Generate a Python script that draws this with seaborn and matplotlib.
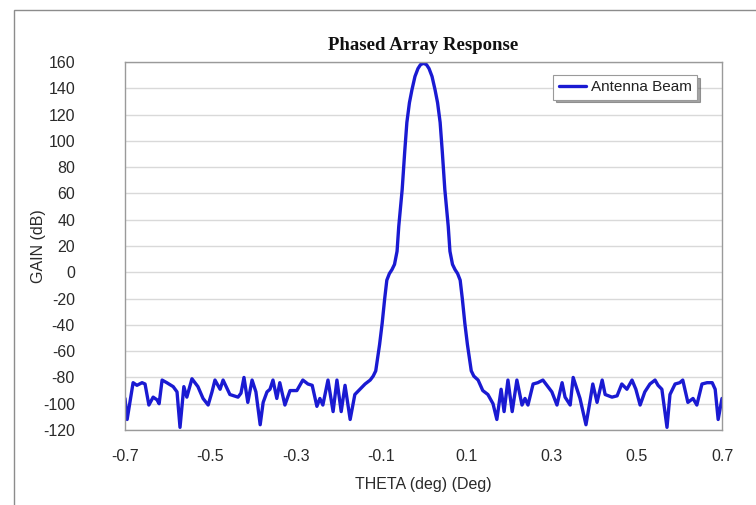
import matplotlib
matplotlib.use("Agg")
import matplotlib.pyplot as plt
from matplotlib.patches import Rectangle
import seaborn as sns
import pandas as pd

theta = [
    -0.700, -0.695, -0.681, -0.672, -0.660, -0.653, -0.644, -0.634, -0.625, -0.620,
    -0.613, -0.602, -0.587, -0.578, -0.571, -0.562, -0.555, -0.543, -0.529, -0.517,
    -0.505, -0.496, -0.489, -0.477, -0.470, -0.454, -0.435, -0.428, -0.421, -0.412,
    -0.402, -0.393, -0.383, -0.376, -0.367, -0.360, -0.353, -0.344, -0.337, -0.325,
    -0.313, -0.297, -0.283, -0.271, -0.261, -0.250, -0.243, -0.236, -0.224, -0.212,
    -0.203, -0.193, -0.184, -0.172, -0.161, -0.149, -0.137, -0.125, -0.118, -0.112,
    -0.108, -0.103, -0.097, -0.091, -0.086, -0.080, -0.074, -0.068, -0.062, -0.058,
    -0.050, -0.044, -0.039, -0.033, -0.027, -0.020, -0.013, -0.007, 0.000,
    0.007, 0.013, 0.020, 0.027, 0.033, 0.039, 0.044, 0.050, 0.058, 0.062,
    0.068, 0.074, 0.080, 0.086,
    0.091, 0.097, 0.103, 0.108, 0.112, 0.118, 0.128, 0.139, 0.151, 0.163,
    0.172, 0.182, 0.189, 0.198, 0.208, 0.219, 0.231, 0.238, 0.245, 0.257,
    0.268, 0.280, 0.301, 0.313, 0.325, 0.332, 0.344, 0.351, 0.360, 0.367,
    0.381, 0.390, 0.397, 0.407, 0.419, 0.426, 0.442, 0.454, 0.465, 0.477,
    0.489, 0.498, 0.508, 0.519, 0.531, 0.543, 0.550, 0.559, 0.571, 0.578,
    0.590, 0.601, 0.608, 0.620, 0.632, 0.641, 0.653, 0.665, 0.677, 0.684,
    0.691, 0.700,
]

gain = [
    -96, -112, -84, -86, -84, -85, -101, -95, -97, -100,
    -82, -84, -87, -91, -118, -87, -95, -81, -87, -96,
    -101, -91, -82, -89, -82, -93, -95, -92, -80, -99,
    -82, -91, -116, -99, -91, -89, -82, -96, -84, -101,
    -90, -90, -82, -85, -86, -102, -96, -101, -82, -106,
    -82, -106, -86, -112, -93, -89, -85, -82, -79, -75,
    -66, -55, -39, -20, -6, -1, 2, 6, 16, 35,
    63, 92, 114, 129, 139, 149, 155, 158, 159,
    158, 155, 149, 139, 129, 114, 92, 63, 35, 16,
    6, 2, -1, -6,
    -20, -39, -55, -66, -75, -79, -82, -90, -93, -100,
    -112, -89, -106, -82, -106, -82, -101, -96, -101, -85,
    -84, -82, -91, -101, -84, -95, -101, -80, -89, -96,
    -116, -99, -85, -99, -82, -93, -95, -94, -85, -89,
    -82, -89, -101, -91, -85, -82, -86, -89, -118, -93,
    -85, -84, -82, -99, -96, -101, -85, -84, -84, -89,
    -112, -96,
]

series_name = "Antenna Beam"
x_ticks = [-0.7, -0.5, -0.3, -0.1, 0.1, 0.3, 0.5, 0.7]
x_tick_labels = ["-0.7", "-0.5", "-0.3", "-0.1", "0.1", "0.3", "0.5", "0.7"]
y_ticks = list(range(-120, 161, 20))
y_tick_labels = [str(v) for v in y_ticks]

df = pd.DataFrame({"theta": theta, "gain": gain, "series": series_name})

sns.set_theme(style="white")
plt.rcParams["font.family"] = ["Liberation Sans", "DejaVu Sans"]
plt.rcParams["axes.unicode_minus"] = False

fig = plt.figure(figsize=(7.56, 5.05), dpi=100)
fig.patch.set_facecolor("white")
ax = fig.add_axes([125 / 756, 1 - 430 / 505, (722 - 125) / 756, (430 - 62) / 505])

# outer chart border
fig.add_artist(Rectangle((14 / 756, -0.05), 1.2, 0.05 + (505 - 10) / 505,
                         transform=fig.transFigure, fill=False,
                         edgecolor="#8c8c8c", linewidth=1.0))

sns.lineplot(data=df, x="theta", y="gain", hue="series", sort=False,
             estimator=None, palette=["#1a1ad2"], linewidth=2.4, ax=ax)

ax.set_xlim(-0.7, 0.7)
ax.set_ylim(-120, 160)
ax.set_xticks(x_ticks)
ax.set_xticklabels(x_tick_labels)
ax.set_yticks(y_ticks)
ax.set_yticklabels(y_tick_labels)
ax.yaxis.grid(True, color="#d9d9d9", linewidth=1.0)
ax.xaxis.grid(False)
ax.set_axisbelow(True)

for s in ax.spines.values():
    s.set_color("#9a9a9a")
    s.set_linewidth(1.0)

ax.tick_params(axis="x", direction="in", length=6, width=1, color="#9a9a9a",
               pad=14, labelsize=11.5, labelcolor="#2a2a2a")
ax.tick_params(axis="y", length=0, pad=36, labelsize=11.5, labelcolor="#2a2a2a")

ax.set_xlabel("THETA (deg) (Deg)", fontsize=11.5, color="#2a2a2a")
ax.set_ylabel("GAIN (dB)", fontsize=11.5, color="#2a2a2a")
ax.xaxis.set_label_coords(0.5, (430 - 485) / 368, transform=ax.transAxes)
ax.yaxis.set_label_coords((38 - 125) / 597, 0.5, transform=ax.transAxes)
ax.xaxis.label.set_va("center")
ax.yaxis.label.set_va("center")
ax.set_title("Phased Array Response", fontsize=13.5, fontweight="bold",
             family=["Liberation Serif", "DejaVu Serif"], color="#111111", pad=9)

leg = ax.legend(loc="upper right", bbox_to_anchor=((697 - 125) / (722 - 125),
                                                    1 - (75 - 62) / (430 - 62)),
                frameon=True, fancybox=False, shadow=True, fontsize=11,
                handlelength=1.8, borderpad=0.35, handletextpad=0.3,
                borderaxespad=0)
leg.get_frame().set_edgecolor("#9a9a9a")
leg.get_frame().set_linewidth(0.8)
for t in leg.get_texts():
    t.set_color("#222222")

fig.savefig("out.png", dpi=100)
